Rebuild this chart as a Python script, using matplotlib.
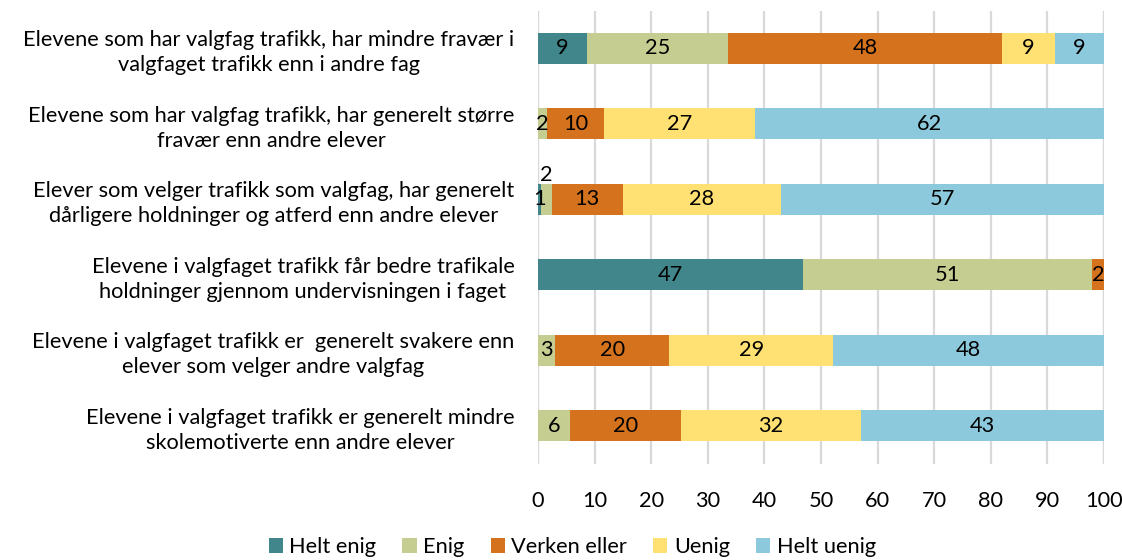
import matplotlib
matplotlib.use("Agg")
import matplotlib.pyplot as plt
from matplotlib.patches import Patch
import numpy as np

plt.rcParams['font.family'] = ['Lato', 'DejaVu Sans']

categories = [
    "Elevene som har valgfag trafikk, har mindre fravær i\nvalgfaget trafikk enn i andre fag",
    "Elevene som har valgfag trafikk, har generelt større\nfravær enn andre elever",
    "Elever som velger trafikk som valgfag, har generelt\ndårligere holdninger og atferd enn andre elever",
    "Elevene i valgfaget trafikk får bedre trafikale\nholdninger gjennom undervisningen i faget",
    "Elevene i valgfaget trafikk er  generelt svakere enn\nelever som velger andre valgfag",
    "Elevene i valgfaget trafikk er generelt mindre\nskolemotiverte enn andre elever",
]
series_names = ["Helt enig", "Enig", "Verken eller", "Uenig", "Helt uenig"]
helt_enig   = [8.6, 0.0, 0.6, 46.9, 0.0, 0.0]
enig        = [25.0, 1.6, 1.8, 50.9, 3.0, 5.6]
verken      = [48.4, 10.1, 12.6, 2.2, 20.2, 19.6]
uenig       = [9.3, 26.6, 27.9, 0.0, 29.0, 31.9]
helt_uenig  = [8.7, 61.7, 57.1, 0.0, 47.8, 42.9]
colors = ["#40868A", "#C6CD91", "#D5721E", "#FFE072", "#8CC9DC"]
xticks = [0, 10, 20, 30, 40, 50, 60, 70, 80, 90, 100]

data = [helt_enig, enig, verken, uenig, helt_uenig]

fig = plt.figure(figsize=(11.22, 5.6), dpi=100)
ax = fig.add_axes([0.4795, 0.172, 0.5045, 0.809])

y = np.arange(len(categories))
left = np.zeros(len(categories))
fs = 15.7
for si, (vals, col) in enumerate(zip(data, colors)):
    vals = np.array(vals)
    ax.barh(y, vals, left=left, height=0.41, color=col, zorder=3)
    for i, v in enumerate(vals):
        if v <= 0:
            continue
        cx = left[i] + v / 2
        cy = y[i]
        # small label following another small labelled segment is lifted above the bar
        if si > 0 and v < 2.5 and 0 < data[si - 1][i] < 2.5:
            cy = y[i] - 0.32
        ax.text(cx, cy, f"{round(v):d}", ha='center', va='center',
                fontsize=fs, color='black', zorder=4)
    left = left + vals

ax.set_ylim(len(categories) - 0.5, -0.5)
ax.set_xlim(0, 100)
ax.set_yticks(y)
ax.set_yticklabels(categories, fontsize=fs, multialignment='center', linespacing=1.3)
ax.set_xticks(xticks)
ax.set_xticklabels([str(t) for t in xticks], fontsize=fs)
ax.tick_params(axis='y', length=0, pad=17)
ax.tick_params(axis='x', length=0, pad=20)
ax.grid(axis='x', color='#D9D9D9', linewidth=1.6, zorder=0)
ax.grid(axis='y', visible=False)
for s in ax.spines.values():
    s.set_visible(False)
ax.axvline(0, color='#D9D9D9', linewidth=1.6, zorder=1)
ax.axvline(100, color='#D9D9D9', linewidth=1.6, zorder=1)

handles = [Patch(facecolor=c, edgecolor='none') for c in colors]
fig.legend(handles, series_names, loc='lower center', bbox_to_anchor=(0.51, -0.03),
           ncol=5, frameon=False, fontsize=fs, handlelength=0.65, handleheight=0.65,
           handletextpad=0.3, columnspacing=1.2)

fig.savefig("out.png", dpi=100)
